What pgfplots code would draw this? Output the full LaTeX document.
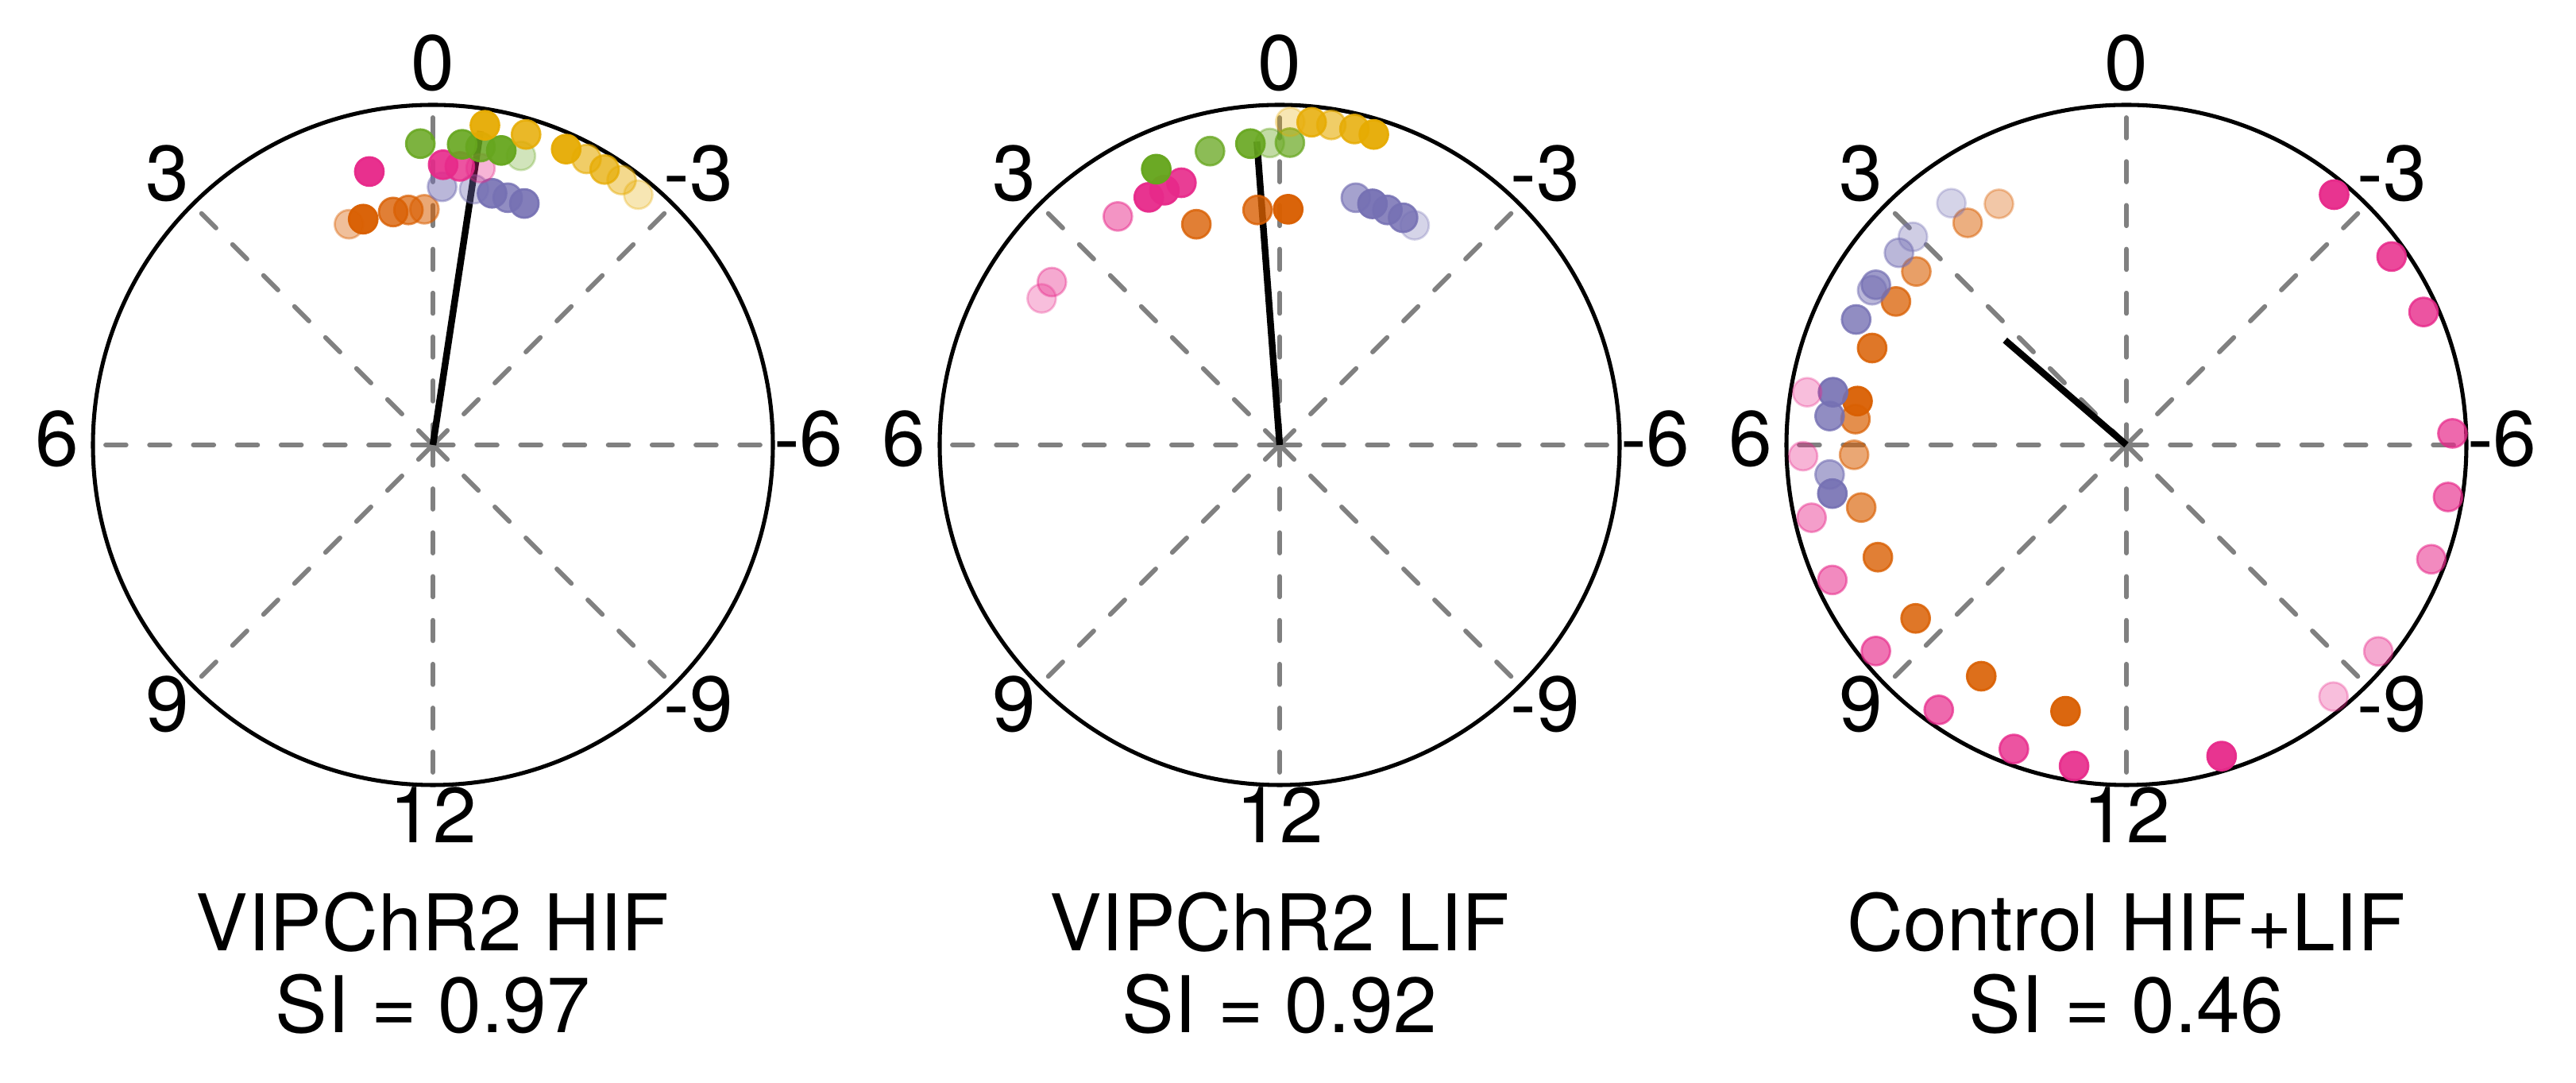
\documentclass[border=0pt]{standalone}
\usepackage{pgfplots}
\pgfplotsset{compat=1.18}
\usepackage{fontspec}
\setmainfont{TeX Gyre Heros}
\definecolor{dorange}{HTML}{D95F02}
\definecolor{dpurple}{HTML}{7570B3}
\definecolor{dmagenta}{HTML}{E7298A}
\definecolor{dgreen}{HTML}{66A61E}
\definecolor{dyellow}{HTML}{E6AB02}
\definecolor{gridgray}{HTML}{808080}
\newcommand\lab{\fontsize{14}{16}\selectfont}
\pgfplotsset{
  polarpanel/.style={anchor=origin, x=2.14cm, y=2.14cm,
    xmin=-1.2, xmax=1.2, ymin=-1.2, ymax=1.2, hide axis, clip=false},
  dots/.style={scatter, only marks, mark=*, mark size=2.55pt,
    visualization depends on={\thisrow{a} \as \opac},
    scatter/@pre marker code/.code={\pgfsetcolor{#1}\pgfsetfillopacity{\opac}\pgfsetstrokeopacity{\opac}},
    scatter/@post marker code/.code={},
    mark options={line width=0.4pt}},
  grid line/.style={gridgray, line width=0.85pt, line cap=round, dash pattern=on 3.65pt off 4.2pt, forget plot},
  mean line/.style={black, line width=1.2pt},
}
\newcommand\panelframe{%
  \draw[black, line width=0.72pt] (axis cs:0,0) circle[radius=2.14cm];
  \addplot[grid line] coordinates {(0,0) (0.97,0)};
  \addplot[grid line] coordinates {(0,0) (0.6859,0.6859)};
  \addplot[grid line] coordinates {(0,0) (0,0.97)};
  \addplot[grid line] coordinates {(0,0) (-0.6859,0.6859)};
  \addplot[grid line] coordinates {(0,0) (-0.97,0)};
  \addplot[grid line] coordinates {(0,0) (-0.6859,-0.6859)};
  \addplot[grid line] coordinates {(0,0) (0,-0.97)};
  \addplot[grid line] coordinates {(0,0) (0.6859,-0.6859)};
  \node[font=\lab] at (axis cs:0,1.123) {0};
  \node[font=\lab] at (axis cs:0.781,0.799) {-3};
  \node[font=\lab] at (axis cs:1.105,0.018) {-6};
  \node[font=\lab] at (axis cs:0.781,-0.763) {-9};
  \node[font=\lab] at (axis cs:0,-1.087) {12};
  \node[font=\lab] at (axis cs:-0.781,-0.763) {9};
  \node[font=\lab] at (axis cs:-1.105,0.018) {6};
  \node[font=\lab] at (axis cs:-0.781,0.799) {3};
}
\begin{document}
\begin{tikzpicture}
\useasboundingbox (0,0) rectangle (16.215cm,6.815cm);

% Panel 1
\begin{axis}[polarpanel, at={(2.725cm,4.015cm)}]
\panelframe
\addplot[dots=dorange] table[meta=a] {
x y a
-0.247 0.649 0.4
-0.205 0.664 0.97
-0.117 0.685 0.8
-0.072 0.691 0.7
-0.025 0.693 0.55
};
\addplot[dots=dpurple] table[meta=a] {
x y a
0.027 0.759 0.5
0.121 0.752 0.4
0.174 0.740 0.9
0.220 0.727 0.8
0.269 0.710 0.9
};
\addplot[dots=dmagenta] table[meta=a] {
x y a
-0.187 0.804 0.97
0.030 0.824 0.9
0.079 0.819 0.8
0.140 0.814 0.35
};
\addplot[dots=dgreen] table[meta=a] {
x y a
-0.037 0.886 0.85
0.086 0.884 0.9
0.140 0.876 0.85
0.201 0.866 0.95
0.259 0.850 0.3
};
\addplot[dots=dyellow] table[meta=a] {
x y a
0.153 0.940 0.95
0.274 0.913 0.85
0.392 0.870 0.95
0.452 0.841 0.6
0.505 0.810 0.75
0.555 0.779 0.45
0.604 0.736 0.3
};
\addplot[mean line] coordinates {(0,0) (0.140,0.923)};
\node[font=\lab, anchor=base] at (axis cs:0,-1.4876) {VIPChR2 HIF};
\node[font=\lab, anchor=base] at (axis cs:0,-1.7273) {SI = 0.97};
\end{axis}

% Panel 2
\begin{axis}[polarpanel, at={(8.055cm,4.015cm)}]
\panelframe
\addplot[dots=dorange] table[meta=a] {
x y a
-0.245 0.649 0.8
-0.065 0.691 0.8
0.025 0.693 0.97
};
\addplot[dots=dpurple] table[meta=a] {
x y a
0.224 0.727 0.65
0.273 0.709 0.95
0.317 0.691 0.85
0.363 0.668 0.85
0.397 0.646 0.3
};
\addplot[dots=dmagenta] table[meta=a] {
x y a
-0.289 0.771 0.9
-0.339 0.749 0.95
-0.385 0.728 0.95
-0.476 0.672 0.5
-0.670 0.479 0.4
-0.700 0.431 0.3
};
\addplot[dots=dgreen] table[meta=a] {
x y a
-0.029 0.888 0.4
0.030 0.889 0.7
-0.086 0.886 0.9
-0.205 0.864 0.75
-0.363 0.811 0.97
};
\addplot[dots=dyellow] table[meta=a] {
x y a
0.031 0.950 0.3
0.094 0.949 0.85
0.152 0.941 0.6
0.220 0.929 0.85
0.277 0.913 0.95
};
\addplot[mean line] coordinates {(0,0) (-0.067,0.892)};
\node[font=\lab, anchor=base] at (axis cs:0,-1.4876) {VIPChR2 LIF};
\node[font=\lab, anchor=base] at (axis cs:0,-1.7273) {SI = 0.92};
\end{axis}

% Panel 3
\begin{axis}[polarpanel, at={(13.385cm,4.015cm)}]
\panelframe
\addplot[dots=dorange] table[meta=a] {
x y a
-0.179 -0.783 0.95
-0.427 -0.680 0.9
-0.620 -0.510 0.85
-0.731 -0.330 0.8
-0.780 -0.184 0.65
-0.801 -0.029 0.55
-0.797 0.076 0.7
-0.791 0.129 0.95
-0.748 0.285 0.85
-0.678 0.422 0.75
-0.618 0.510 0.6
-0.467 0.653 0.5
-0.375 0.709 0.35
};
\addplot[dots=dpurple] table[meta=a] {
x y a
-0.865 -0.143 0.9
-0.873 -0.087 0.6
-0.873 0.085 0.8
-0.863 0.155 0.9
-0.795 0.369 0.8
-0.737 0.471 0.7
-0.748 0.455 0.5
-0.669 0.565 0.5
-0.628 0.612 0.35
-0.515 0.711 0.3
};
\addplot[dots=dmagenta] table[meta=a] {
x y a
0.611 0.736 0.95
0.780 0.554 0.85
0.874 0.391 0.8
0.959 0.034 0.7
0.946 -0.153 0.65
0.897 -0.336 0.55
0.741 -0.607 0.4
0.609 -0.740 0.3
0.280 -0.915 0.95
-0.154 -0.944 0.9
-0.331 -0.894 0.8
-0.552 -0.779 0.7
-0.737 -0.606 0.65
-0.865 -0.397 0.55
-0.926 -0.214 0.45
-0.951 -0.033 0.35
-0.939 0.155 0.3
};
\addplot[mean line] coordinates {(0,0) (-0.357,0.308)};
\node[font=\lab, anchor=base] at (axis cs:0,-1.4876) {Control HIF+LIF};
\node[font=\lab, anchor=base] at (axis cs:0,-1.7273) {SI = 0.46};
\end{axis}
\end{tikzpicture}
\end{document}
